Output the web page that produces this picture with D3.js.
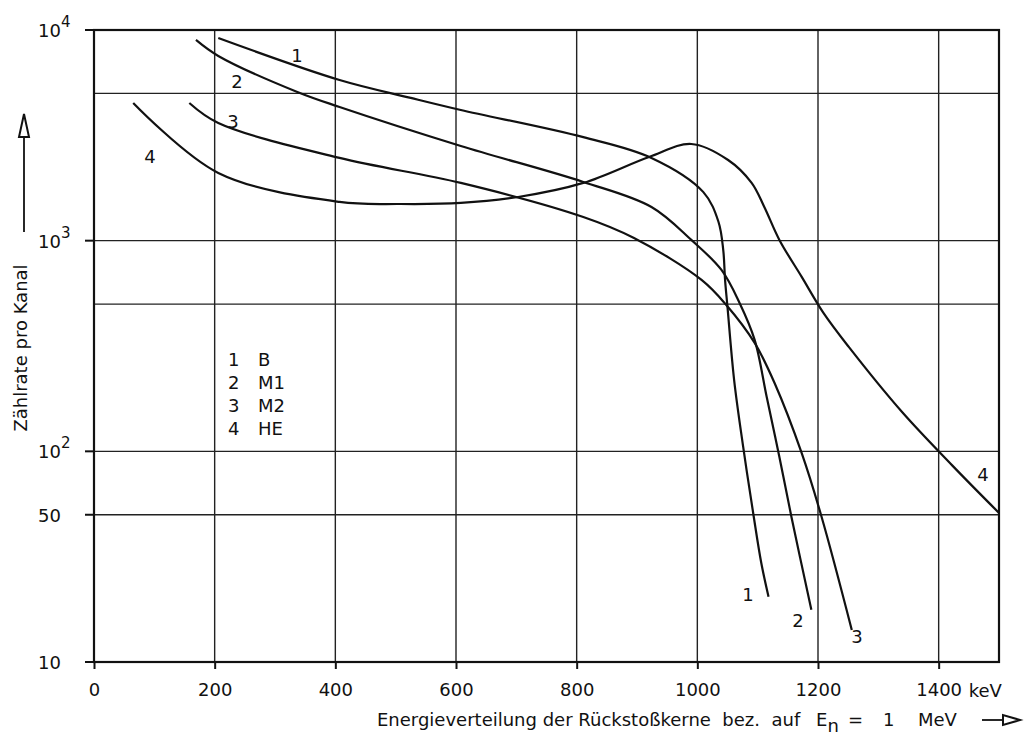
<!DOCTYPE html>
<html>
<head>
<meta charset="utf-8">
<script src="https://cdn.jsdelivr.net/npm/d3@7"></script>
<style>
  body { margin: 0; background: #fff; }
  text { font-family: "DejaVu Sans", sans-serif; fill: #111; white-space: pre; }
</style>
</head>
<body>
<div id="chart"></div>
<script>
// energy (keV) / count rate pairs
var energyB  = [206, 407, 525, 608, 811, 924, 1010, 1035, 1043, 1046, 1050, 1061, 1076, 1093, 1106, 1118];
var countsB  = [9160, 5790, 4760, 4170, 3100, 2470, 1700, 1230, 900, 650, 484, 218, 105, 50, 29.5, 20.4];

var energyM1 = [169, 206, 337, 407, 608, 811, 924, 990, 1040, 1070, 1095, 1115, 1136, 1156, 1189];
var countsM1 = [8970, 7530, 5080, 4310, 2815, 1900, 1445, 1008, 726, 506, 338, 181, 94, 48.8, 17.7];

var energyM2 = [158, 206, 407, 608, 811, 895, 1007, 1048, 1095, 1128, 1173, 1206, 1256];
var countsM2 = [4505, 3620, 2470, 1880, 1296, 1030, 651, 495, 327, 211, 98, 48.8, 14.2];

var energyHE = [65, 206, 407, 508, 608, 703, 811, 920, 990, 1051, 1090, 1111, 1136, 1173, 1209, 1251, 1339, 1422, 1500];
var countsHE = [4505, 2096, 1527, 1493, 1510, 1612, 1880, 2497, 2877, 2415, 1880, 1445, 1008, 673, 454, 313, 154, 86, 51];

var xTicks = [0, 200, 400, 600, 800, 1000, 1200, 1400];
var yTicks = [10, 50, 100, 1000, 10000];
var yTickBase = ["10", "50", "10", "10", "10"];
var yTickExp = ["", "", "2", "3", "4"];
var yGrid = [50, 100, 500, 1000, 5000];

var curveNames = ["1", "2", "3", "4"];
var legendNames = ["B", "M1", "M2", "HE"];

var width = 1029, height = 751;
var fs = "18px";
var svg = d3.select("#chart").append("svg")
    .attr("width", width)
    .attr("height", height);

var x = d3.scaleLinear().domain([0, 1500]).range([94, 999]);
var y = d3.scaleLog().domain([10, 10000]).range([662, 30]);

// grid
svg.selectAll(".vgrid")
    .data(xTicks.slice(1))
    .enter().append("line")
    .attr("x1", function (d) { return x(d); })
    .attr("x2", function (d) { return x(d); })
    .attr("y1", y(10000))
    .attr("y2", y(10))
    .attr("stroke", "#222")
    .attr("stroke-width", 1.4);

svg.selectAll(".hgrid")
    .data(yGrid)
    .enter().append("line")
    .attr("x1", x(0))
    .attr("x2", x(1500))
    .attr("y1", function (d) { return y(d); })
    .attr("y2", function (d) { return y(d); })
    .attr("stroke", "#222")
    .attr("stroke-width", 1.4);

// frame
svg.append("rect")
    .attr("x", x(0))
    .attr("y", y(10000))
    .attr("width", x(1500) - x(0))
    .attr("height", y(10) - y(10000))
    .attr("fill", "none")
    .attr("stroke", "#111")
    .attr("stroke-width", 2.2);

// bottom axis
var xAxis = svg.append("g")
    .attr("transform", "translate(0," + y(10) + ")")
    .call(d3.axisBottom(x).tickValues(xTicks).tickSize(7).tickPadding(14)
        .tickFormat(function (d) { return String(d); }));
xAxis.select(".domain").remove();
xAxis.selectAll("line").attr("stroke", "#111").attr("stroke-width", 2);
xAxis.selectAll("text")
    .style("font-family", "DejaVu Sans")
    .style("font-size", fs)
    .attr("fill", "#111");

svg.append("text")
    .attr("x", x(1400) + 30)
    .attr("y", y(10) + 35)
    .style("font-size", fs)
    .text("keV");

// left ticks + labels
svg.selectAll(".ytick")
    .data(yTicks)
    .enter().append("line")
    .attr("x1", x(0) - 9)
    .attr("x2", x(0))
    .attr("y1", function (d) { return y(d); })
    .attr("y2", function (d) { return y(d); })
    .attr("stroke", "#111")
    .attr("stroke-width", 2);

var ylab = svg.selectAll(".ylab")
    .data(yTicks)
    .enter().append("text")
    .attr("x", 38)
    .attr("y", function (d) { return y(d) + 7; })
    .style("font-size", fs);
ylab.append("tspan").text(function (d, i) { return yTickBase[i]; });
ylab.append("tspan")
    .attr("dy", -10)
    .style("font-size", "15px")
    .text(function (d, i) { return yTickExp[i]; });

// axis titles
svg.append("text")
    .attr("transform", "translate(27,348) rotate(-90)")
    .attr("text-anchor", "middle")
    .style("font-size", fs)
    .text("Zählrate pro Kanal");

svg.append("line")
    .attr("x1", 24).attr("x2", 24)
    .attr("y1", 232).attr("y2", 136)
    .attr("stroke", "#111").attr("stroke-width", 1.8);
svg.append("path")
    .attr("d", "M24,114 L19,137 L29,137 Z")
    .attr("fill", "#fff").attr("stroke", "#111").attr("stroke-width", 2);

var xt = svg.append("text")
    .attr("y", 726)
    .style("font-size", fs);
xt.append("tspan").attr("x", 377).text("Energieverteilung der Rückstoßkerne  bez.  auf");
xt.append("tspan").attr("x", 816).text("E");
xt.append("tspan").attr("dy", 6).text("n");
xt.append("tspan").attr("dy", -6).attr("x", 848).text("=");
xt.append("tspan").attr("x", 883).text("1");
xt.append("tspan").attr("x", 918).text("MeV");

svg.append("line")
    .attr("x1", 982).attr("x2", 1004)
    .attr("y1", 720).attr("y2", 720)
    .attr("stroke", "#111").attr("stroke-width", 1.8);
svg.append("path")
    .attr("d", "M1020,720 L1003,715 L1003,725 Z")
    .attr("fill", "#fff").attr("stroke", "#111").attr("stroke-width", 2);

// curves
var series = [
    {e: energyB, c: countsB},
    {e: energyM1, c: countsM1},
    {e: energyM2, c: countsM2},
    {e: energyHE, c: countsHE}
];

var line = d3.line()
    .x(function (d) { return x(d[0]); })
    .y(function (d) { return y(d[1]); })
    .curve(d3.curveCatmullRom.alpha(0.5));

series.forEach(function (s) {
    svg.append("path")
        .datum(d3.zip(s.e, s.c))
        .attr("d", line)
        .attr("fill", "none")
        .attr("stroke", "#111")
        .attr("stroke-width", 2.2);
});

// curve labels (near start and end of each curve)
var labelStart = [[297, 62], [237, 88], [233, 128], [150, 163]];
var labelEnd = [[748, 601], [798, 627], [857, 643], [983, 481]];
labelStart.forEach(function (p, i) {
    svg.append("text").attr("x", p[0]).attr("y", p[1])
        .attr("text-anchor", "middle").style("font-size", fs)
        .text(curveNames[i]);
});
labelEnd.forEach(function (p, i) {
    svg.append("text").attr("x", p[0]).attr("y", p[1])
        .attr("text-anchor", "middle").style("font-size", fs)
        .text(curveNames[i]);
});

// legend
var leg = svg.selectAll(".leg")
    .data(curveNames)
    .enter().append("g")
    .attr("transform", function (d, i) { return "translate(228," + (366 + i * 23) + ")"; });
leg.append("text").style("font-size", fs).text(function (d) { return d; });
leg.append("text").attr("x", 30).style("font-size", fs)
    .text(function (d, i) { return legendNames[i]; });
</script>
</body>
</html>
